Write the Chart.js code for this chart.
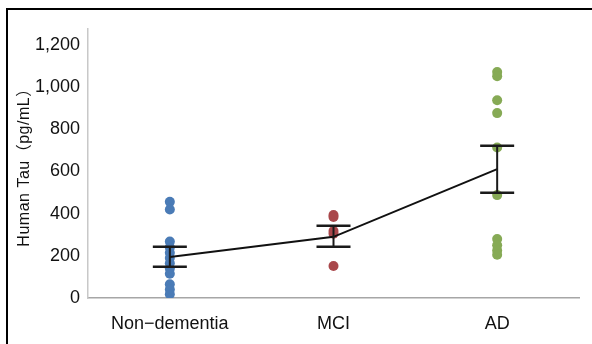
<!DOCTYPE html>
<html>
<head>
<meta charset="utf-8">
<script src="https://cdn.jsdelivr.net/npm/chart.js@4"></script>
<style>
html,body{margin:0;padding:0;background:#fff;}
#wrap{position:relative;width:592px;height:344px;}
canvas{display:block;}
</style>
</head>
<body>
<div id="wrap"><canvas id="c" width="592" height="344"></canvas></div>
<script>
const categories = ['Non\u2212dementia', 'MCI', 'AD'];
const nonDementia = [456, 420, 268, 240, 215, 190, 165, 140, 115, 65, 40, 18];
const mci = [394, 384, 318, 305, 152];
const ad = [1072, 1052, 938, 877, 714, 488, 280, 250, 225, 205];
const means = [194, 290, 611];
const upper = [243, 343, 722];
const lower = [148, 243, 499];
const yTicks = [0, 200, 400, 600, 800, 1000, 1200];
const yTitle = 'Human Tau\uFF08pg/mL\uFF09';

const FONT = "'Liberation Sans', Arial, sans-serif";
const TITLE_FONT = "'Liberation Sans', 'Noto Sans CJK JP', sans-serif";

function pts(cat, arr) { return arr.map(v => ({x: cat, y: v})); }

const frame = {
  id: 'frame',
  beforeDraw(chart) {
    const ctx = chart.ctx;
    ctx.save();
    ctx.fillStyle = '#fff';
    ctx.fillRect(0, 0, chart.width, chart.height);
    ctx.strokeStyle = '#000';
    ctx.lineWidth = 2;
    ctx.beginPath();
    ctx.moveTo(7, chart.height);
    ctx.lineTo(7, 9);
    ctx.lineTo(chart.width, 9);
    ctx.stroke();
    ctx.restore();
  }
};

const errorBars = {
  id: 'errorBars',
  afterDatasetsDraw(chart) {
    const ctx = chart.ctx, xs = chart.scales.x, ys = chart.scales.y;
    ctx.save();
    ctx.strokeStyle = '#1a1a1a';
    categories.forEach((c, i) => {
      const x = xs.getPixelForValue(i);
      const yt = ys.getPixelForValue(upper[i]);
      const yb = ys.getPixelForValue(lower[i]);
      ctx.lineWidth = 2;
      ctx.beginPath();
      ctx.moveTo(x, yt); ctx.lineTo(x, yb);
      ctx.stroke();
      ctx.lineWidth = 2.5;
      ctx.beginPath();
      ctx.moveTo(x - 17, yt); ctx.lineTo(x + 17, yt);
      ctx.moveTo(x - 17, yb); ctx.lineTo(x + 17, yb);
      ctx.stroke();
    });
    ctx.restore();
  }
};

new Chart(document.getElementById('c'), {
  type: 'scatter',
  data: {
    labels: categories,
    datasets: [
      {label: 'mean', type: 'line', data: means, borderColor: '#111', borderWidth: 2, pointRadius: 0, order: 0, tension: 0},
      {label: categories[0], data: pts(categories[0], nonDementia), backgroundColor: '#4a7bb6', borderWidth: 0, pointRadius: 5, order: 1},
      {label: categories[1], data: pts(categories[1], mci), backgroundColor: '#a9474b', borderWidth: 0, pointRadius: 5, order: 1},
      {label: categories[2], data: pts(categories[2], ad), backgroundColor: '#86aa55', borderWidth: 0, pointRadius: 5, order: 1}
    ]
  },
  options: {
    responsive: false,
    animation: false,
    devicePixelRatio: 1,
    layout: {padding: {left: 0, right: 13, top: 29, bottom: 0}},
    plugins: {legend: {display: false}, tooltip: {enabled: false}},
    scales: {
      x: {
        type: 'category',
        labels: categories,
        offset: true,
        grid: {display: false, drawTicks: false},
        border: {display: true, color: '#a6a6a6', width: 1.5},
        ticks: {color: '#111', font: {family: FONT, size: 18}, padding: 15, maxRotation: 0},
        afterFit(s) { s.height = 46; }
      },
      y: {
        min: 0, max: 1276,
        grid: {display: false, drawTicks: false},
        border: {display: true, color: '#c8c8c8', width: 1.5},
        afterBuildTicks(s) { s.ticks = yTicks.map(v => ({value: v})); },
        ticks: {color: '#111', font: {family: FONT, size: 18}, padding: 8,
          callback: v => v.toLocaleString('en-US')},
        title: {display: true, text: yTitle, color: '#111', font: {family: TITLE_FONT, size: 16}, padding: {top: 15, bottom: 0}},
        afterFit(s) {
          s.width = 88;
          if (!s._lsWrapped) {
            const orig = s.drawTitle;
            s.drawTitle = function () {
              const c = this.ctx;
              c.save();
              c.letterSpacing = '0.5px';
              orig.apply(this, arguments);
              c.restore();
            };
            s._lsWrapped = true;
          }
        }
      }
    }
  },
  plugins: [frame, errorBars]
});
</script>
</body>
</html>
